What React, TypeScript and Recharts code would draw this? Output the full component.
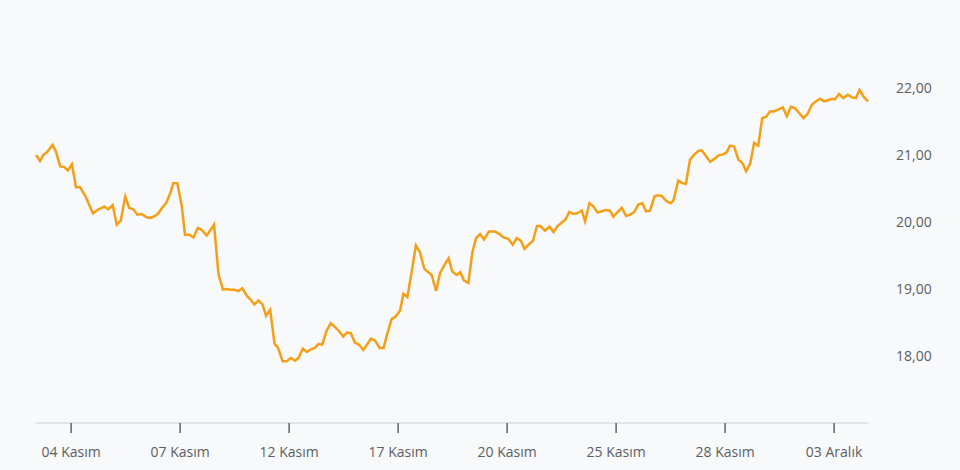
import { LineChart, Line, XAxis, YAxis } from "recharts";

// hour slots (9 per trading day) and price
const slots = [
  0.3, 1.3, 2.1, 3.0, 4.4, 5.3, 6.3, 7.3, 8.2, 9.2, 10.2, 11.2, 12.5, 14.4, 15.8, 17.2, 18.2, 19.3, 20.3, 21.3,
  22.4, 23.4, 24.4, 25.4, 26.5, 27.7, 28.7, 29.8, 30.6, 31.5, 32.5, 33.5, 34.3, 35.3, 36.4, 37.2, 38.3, 39.3, 40.4, 41.4,
  42.6, 44.4, 45.5, 46.6, 47.6, 48.4, 49.4, 50.4, 51.4, 52.5, 53.3, 54.4, 55.4, 56.4, 57.3, 58.3, 59.4, 60.2, 61.4, 62.4,
  63.4, 64.5, 65.3, 66.4, 67.4, 68.4, 69.4, 70.3, 71.2, 72.3, 73.3, 74.4, 75.4, 76.4, 77.3, 78.3, 79.3, 80.3, 81.4, 82.4,
  83.3, 84.3, 85.4, 86.4, 87.3, 88.4, 89.4, 90.5, 91.3, 92.3, 93.4, 94.4, 95.4, 96.5, 97.5, 98.3, 99.4, 100.4, 101.4, 102.5,
  103.4, 104.5, 105.4, 106.3, 107.4, 108.4, 109.3, 110.3, 111.3, 112.5, 114.0, 115.1, 116.1, 117.3, 118.4, 119.4, 120.4, 121.3, 122.3, 123.4,
  124.4, 125.3, 126.4, 127.5, 128.5, 129.5, 130.5, 131.5, 132.4, 133.4, 134.4, 135.5, 136.3, 137.4, 138.4, 139.4, 140.5, 141.4, 142.5, 143.3,
  144.4, 145.4, 146.5, 147.5, 148.5, 149.5, 150.5, 151.4, 152.4, 153.5, 154.3, 155.3, 156.5, 157.5, 158.2, 159.4, 160.4, 161.3, 162.3, 163.4,
  164.4, 165.2, 166.3, 167.3, 168.3, 169.3, 170.4, 171.4, 172.2, 173.2, 174.3, 175.3, 176.2, 177.2, 178.2, 179.2, 180.2, 181.2, 182.1, 183.1,
  184.2, 185.3, 186.3, 187.3, 188.3, 189.3, 190.4, 191.4, 192.5, 193.5, 194.5, 195.5, 196.6, 197.6, 198.2, 199.2, 200.3, 201.4, 202.4, 203.4,
  204.3, 205.3, 206.4,
];

const prices = [
  21.0, 20.91, 21.0, 21.04, 21.15, 21.04, 20.83, 20.82, 20.77, 20.86, 20.52, 20.52, 20.39, 20.13, 20.19, 20.23, 20.19, 20.25, 19.96, 20.02,
  20.38, 20.21, 20.19, 20.11, 20.12, 20.07, 20.06, 20.09, 20.13, 20.21, 20.28, 20.42, 20.58, 20.58, 20.24, 19.81, 19.81, 19.77, 19.91, 19.88,
  19.8, 19.96, 19.22, 18.99, 19.0, 18.99, 18.99, 18.97, 19.01, 18.9, 18.85, 18.77, 18.83, 18.77, 18.6, 18.69, 18.18, 18.13, 17.92, 17.92,
  17.97, 17.93, 17.97, 18.11, 18.06, 18.1, 18.12, 18.18, 18.17, 18.38, 18.49, 18.43, 18.37, 18.29, 18.35, 18.34, 18.2, 18.17, 18.09, 18.18,
  18.26, 18.23, 18.12, 18.12, 18.33, 18.55, 18.59, 18.68, 18.93, 18.88, 19.27, 19.65, 19.55, 19.3, 19.25, 19.21, 18.97, 19.24, 19.35, 19.46,
  19.26, 19.21, 19.25, 19.13, 19.09, 19.55, 19.76, 19.82, 19.74, 19.86, 19.86, 19.82, 19.77, 19.75, 19.66, 19.76, 19.72, 19.6, 19.66, 19.72,
  19.94, 19.94, 19.87, 19.93, 19.85, 19.94, 19.99, 20.04, 20.15, 20.12, 20.13, 20.17, 20.01, 20.28, 20.23, 20.14, 20.16, 20.18, 20.17, 20.08,
  20.15, 20.21, 20.09, 20.11, 20.15, 20.26, 20.28, 20.16, 20.17, 20.38, 20.4, 20.39, 20.31, 20.28, 20.32, 20.62, 20.58, 20.57, 20.93, 21.01,
  21.06, 21.07, 20.98, 20.9, 20.94, 20.99, 21.01, 21.04, 21.14, 21.13, 20.93, 20.88, 20.76, 20.87, 21.18, 21.14, 21.55, 21.57, 21.65, 21.65,
  21.68, 21.71, 21.58, 21.72, 21.7, 21.63, 21.55, 21.61, 21.75, 21.8, 21.84, 21.8, 21.82, 21.84, 21.83, 21.91, 21.85, 21.9, 21.86, 21.85,
  21.97, 21.87, 21.8,
];

const tickSlots = [9, 36, 63, 90, 117, 144, 171, 198];
const tickLabels = ["04 Kasım", "07 Kasım", "12 Kasım", "17 Kasım", "20 Kasım", "25 Kasım", "28 Kasım", "03 Aralık"];
const priceTicks = [18, 19, 20, 21, 22];

const data = slots.map((s, i) => ({ slot: s, price: prices[i] }));

const font = "'Open Sans', 'Noto Sans', sans-serif";

export default function App() {
  return (
    <div
      style={{
        position: "absolute",
        left: 0,
        top: 0,
        width: 960,
        height: 470,
        background: "#f8f9fb",
        fontFamily: font,
      }}
    >
      <LineChart
        width={960}
        height={470}
        data={data}
        margin={{ top: 21, right: 32, left: 36, bottom: 17 }}
      >
        <XAxis
          dataKey="slot"
          type="number"
          domain={["dataMin", "dataMax"]}
          ticks={tickSlots}
          tickFormatter={(v) => tickLabels[tickSlots.indexOf(v)] ?? ""}
          axisLine={{ stroke: "#e2e4e8", strokeWidth: 2 }}
          tickLine={{ stroke: "#5f6368", strokeWidth: 1.5 }}
          tickSize={10}
          tickMargin={14}
          height={30}
          tick={{ fill: "#5a5e64", fontSize: 14, fontFamily: font }}
          interval={0}
        />
        <YAxis
          orientation="right"
          domain={[17, 23]}
          ticks={priceTicks}
          tickFormatter={(v) => v.toFixed(2).replace(".", ",")}
          axisLine={false}
          tickLine={false}
          tickSize={0}
          tickMargin={28}
          width={60}
          tick={{ fill: "#5a5e64", fontSize: 14, fontFamily: font }}
        />
        <Line
          type="linear"
          dataKey="price"
          stroke="#f59f16"
          strokeWidth={2.5}
          dot={false}
          isAnimationActive={false}
        />
      </LineChart>
    </div>
  );
}
